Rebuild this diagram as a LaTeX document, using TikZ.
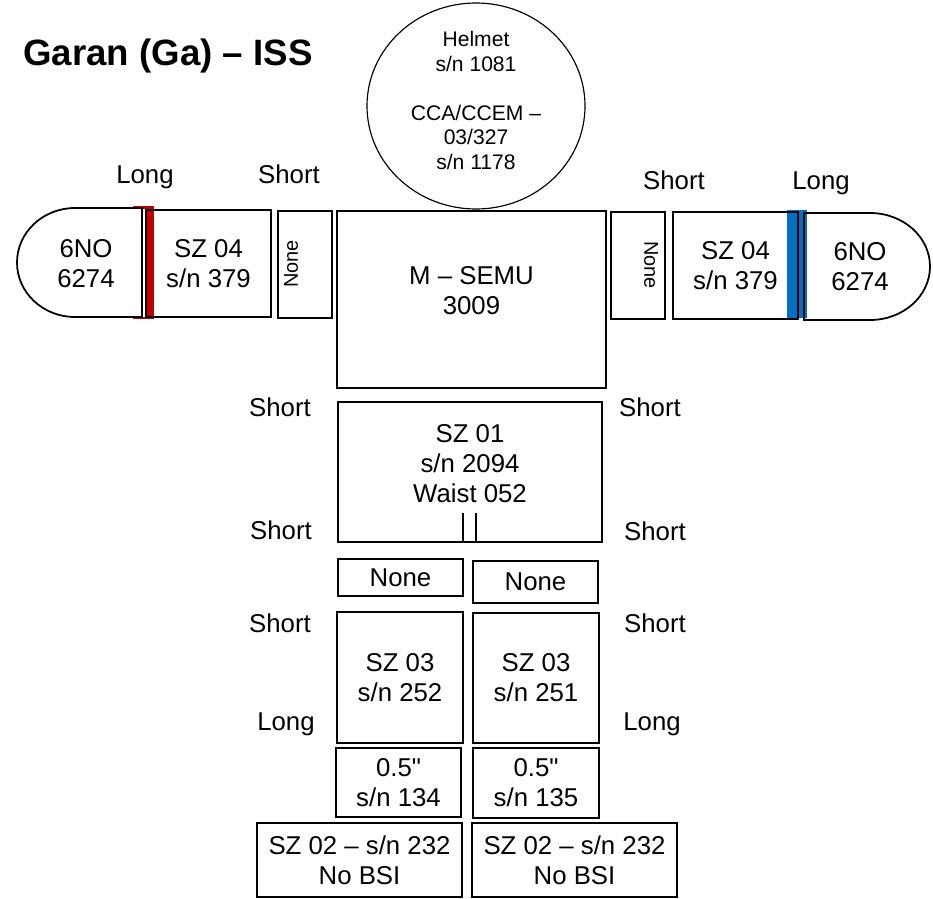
\documentclass[tikz,border=0pt]{standalone}
\usepackage{fontspec}
\setmainfont{Liberation Sans}[Ligatures=TeXOff]
\usetikzlibrary{shapes.geometric,positioning}
\definecolor{bracketred}{RGB}{192,0,0}
\definecolor{bracketblue}{RGB}{0,112,192}
\newcommand\bodyfont{\fontsize{22}{25.6}\selectfont}
\newcommand\helmetfont{\fontsize{18}{21}\selectfont}
\tikzset{
  part/.style={draw=black,line width=1.5pt,inner sep=0pt,align=center,font=\bodyfont},
  glove/.style={draw=black,line width=1.5pt},
  txt/.style={font=\bodyfont,align=center,inner sep=0pt},
  sidetxt/.style={font=\fontsize{17}{20}\selectfont,inner sep=0pt},
  tag/.style={font=\bodyfont,inner sep=0pt,anchor=base},
}
\begin{document}
\begin{tikzpicture}[x=0.03cm,y=0.03cm]
  \useasboundingbox (0,0) rectangle (933,-898);
  % title
  \node[anchor=base west,inner sep=0pt,font=\fontsize{31.3}{36}\selectfont\bfseries] (title) at (23,-65) {Garan (Ga) – ISS};
  % helmet
  \node[ellipse,draw,line width=1pt,minimum width=6.54cm,minimum height=6.18cm] (helmet) at (476,-106) {};
  \node[txt,font=\helmetfont] (helmettext) at (476,-100.5) {Helmet\\s/n 1081\\[21pt]CCA/CCEM –\\03/327\\s/n 1178};
  % sizing bars
  \fill[bracketred] (147,-206) rectangle (154,-319);
  \fill[bracketred] (133,-206) rectangle (154,-208.5);
  \fill[bracketred] (133,-316.5) rectangle (154,-319);
  \fill[bracketblue] (787,-210) rectangle (807,-318);
  % gloves
  \draw[glove] (142,-208) -- (75,-208) arc[start angle=90,end angle=270,x radius=1.74cm,y radius=1.635cm] -- (142,-317) -- cycle;
  \node[txt] (lglove) at (86,-263.5) {6NO\\6274};
  \draw[glove] (804,-213) -- (870,-213) arc[start angle=90,end angle=-90,x radius=1.8cm,y radius=1.605cm] -- (804,-320) -- cycle;
  \node[txt] (rglove) at (860,-266.5) {6NO\\6274};
  % arms
  \node[part,minimum width=3.75cm,minimum height=3.21cm] (lsz04) at (208.5,-263.5) {SZ 04\\s/n 379};
  \node[part,minimum width=1.62cm,minimum height=3.21cm] (lnone) at (305,-264.5) {};
  \node[sidetxt,rotate=90] (lnonetext) at (291,-264) {None};
  \node[part,minimum width=1.62cm,minimum height=3.21cm] (rnone) at (638,-265.5) {};
  \node[sidetxt,rotate=-90] (rnonetext) at (651,-265) {None};
  \node[part,minimum width=3.75cm,minimum height=3.21cm] (rsz04) at (735.5,-265.5) {SZ 04\\s/n 379};
  % torso and waist
  \node[part,minimum width=8.07cm,minimum height=5.31cm] (semu) at (471.5,-299.5) {};
  \node[txt] (semutext) at (471.5,-291) {M – SEMU\\3009};
  \node[part,minimum width=7.92cm,minimum height=4.2cm] (sz01) at (470,-472) {};
  \node[txt] (sz01text) at (470,-464) {SZ 01\\s/n 2094\\Waist 052};
  \coordinate (lflap) at (463,-513);
  \coordinate (rflap) at (476,-513);
  \draw[line width=1.5pt] (lflap) -- (lflap |- sz01.south);
  \draw[line width=1.5pt] (rflap) -- (rflap |- sz01.south);
  % legs
  \node[part,minimum width=3.75cm,minimum height=1.11cm] (lnoneleg) at (400.5,-577.5) {None};
  \node[part,minimum width=3.75cm,minimum height=1.26cm] (rnoneleg) at (535.5,-582) {None};
  \node[part,minimum width=3.78cm,minimum height=3.93cm] (lsz03) at (400,-677.5) {SZ 03\\s/n 252};
  \node[part,minimum width=3.78cm,minimum height=3.9cm] (rsz03) at (536,-678) {SZ 03\\s/n 251};
  \node[part,minimum width=3.75cm,minimum height=2.07cm] (lring) at (398.5,-782.5) {0.5"\\s/n 134};
  \node[part,minimum width=3.78cm,minimum height=2.1cm] (rring) at (536,-783) {0.5"\\s/n 135};
  \node[part,minimum width=6.15cm,minimum height=2.22cm] (lsz02) at (359.5,-860) {SZ 02 – s/n 232\\No BSI};
  \node[part,minimum width=6.15cm,minimum height=2.22cm] (rsz02) at (574.5,-860) {SZ 02 – s/n 232\\No BSI};
  % lengths
  \node[tag] (lglovelen) at (145,-183) {Long};
  \node[tag] (larmlen) at (289,-183) {Short};
  \node[tag] (rarmlen) at (674,-189) {Short};
  \node[tag] (rglovelen) at (821,-189) {Long};
  \node[tag] (lwaisttop) at (280,-416) {Short};
  \node[tag] (lwaistbot) at (281,-539) {Short};
  \node[tag] (lthigh) at (280,-632) {Short};
  \node[tag] (lleg) at (286,-730) {Long};
  \node[tag] (rwaisttop) at (650,-416) {Short};
  \node[tag] (rwaistbot) at (655,-540) {Short};
  \node[tag] (rthigh) at (655,-632) {Short};
  \node[tag] (rleg) at (652,-730) {Long};
\end{tikzpicture}
\end{document}
